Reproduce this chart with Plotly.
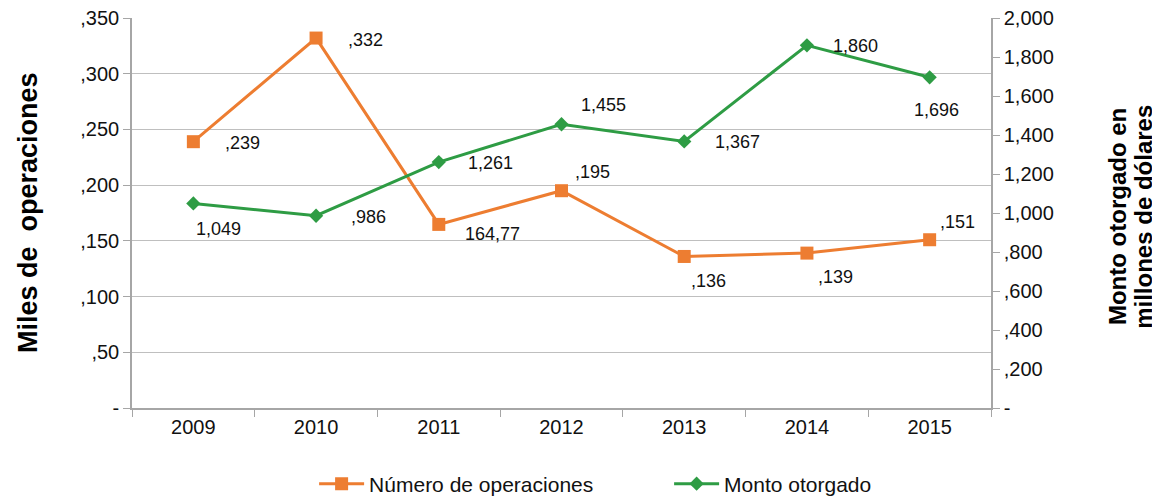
import plotly.graph_objects as go

years = ["2009", "2010", "2011", "2012", "2013", "2014", "2015"]
operaciones = [239, 332, 164.77, 195, 136, 139, 151]
operaciones_labels = [",239", ",332", "164,77", ",195", ",136", ",139", ",151"]
monto = [1049, 986, 1261, 1455, 1367, 1860, 1696]
monto_labels = ["1,049", ",986", "1,261", "1,455", "1,367", "1,860", "1,696"]

left_tickvals = [0, 50, 100, 150, 200, 250, 300, 350]
left_ticktext = ["-", ",50", ",100", ",150", ",200", ",250", ",300", ",350"]
right_tickvals = [0, 200, 400, 600, 800, 1000, 1200, 1400, 1600, 1800, 2000]
right_ticktext = ["-", ",200", ",400", ",600", ",800", "1,000", "1,200", "1,400", "1,600", "1,800", "2,000"]

# label offsets (pixels) for data labels
op_shift = [(49, -1), (49, -2), (54, -10), (31, 19), (24, -25), (29, -24), (28, 18)]
mo_shift = [(25, -26), (52, -1), (52, -1), (42, 19), (53, -1), (49, -1), (7, -33)]

ORANGE = "#ED7D31"
GREEN = "#2E9C44"
FONT = "Liberation Sans, Arial, sans-serif"

fig = go.Figure()
fig.add_trace(go.Scatter(
    x=years, y=operaciones, name="Número de operaciones", mode="lines+markers",
    line=dict(color=ORANGE, width=3), marker=dict(symbol="square", size=13, color=ORANGE),
    yaxis="y"))
fig.add_trace(go.Scatter(
    x=years, y=monto, name="Monto otorgado", mode="lines+markers",
    line=dict(color=GREEN, width=3), marker=dict(symbol="diamond", size=11, color=GREEN),
    yaxis="y2"))

annotations = []
for i, (v, t, (dx, dy)) in enumerate(zip(operaciones, operaciones_labels, op_shift)):
    annotations.append(dict(x=i, y=v, xref="x", yref="y", text=t, showarrow=False,
                            xshift=dx, yshift=dy, font=dict(size=18, color="#111", family=FONT)))
for i, (v, t, (dx, dy)) in enumerate(zip(monto, monto_labels, mo_shift)):
    annotations.append(dict(x=i, y=v, xref="x", yref="y2", text=t, showarrow=False,
                            xshift=dx, yshift=dy, font=dict(size=18, color="#111", family=FONT)))

annotations.append(dict(text="<b>Miles de\u00a0 operaciones</b>", x=-0.121, xref="paper", y=0.5,
                        yref="paper", showarrow=False, textangle=-90, xanchor="center",
                        yanchor="middle", font=dict(size=27, color="#000", family=FONT)))
annotations.append(dict(text="<b>Monto otorgado en</b>", x=1.148, xref="paper",
                        y=0.49, yref="paper", showarrow=False, textangle=-90, xanchor="center",
                        yanchor="middle", font=dict(size=24, color="#000", family=FONT)))
annotations.append(dict(text="<b>millones de dólares</b>", x=1.178, xref="paper",
                        y=0.49, yref="paper", showarrow=False, textangle=-90, xanchor="center",
                        yanchor="middle", font=dict(size=24, color="#000", family=FONT)))

fig.update_layout(
    template="none",
    width=1152, height=492,
    margin=dict(l=124, r=169, t=10, b=92, autoexpand=False),
    paper_bgcolor="white", plot_bgcolor="white",
    font=dict(family=FONT, size=20, color="#111"),
    showlegend=True,
    legend=dict(orientation="h", x=0.212, xanchor="left", y=-0.195, yanchor="middle",
                font=dict(size=21, color="#111"), itemwidth=45,
                entrywidth=295, entrywidthmode="pixels", bgcolor="rgba(0,0,0,0)"),
    xaxis=dict(type="category", range=[-0.5, 6.5], showgrid=False, showline=True,
               linecolor="#A6A6A6", linewidth=1.5, ticks="outside", tickson="boundaries",
               ticklen=7, tickcolor="#A6A6A6", tickfont=dict(size=20, color="#111"),
               zeroline=False, automargin=False),
    yaxis=dict(range=[0, 350], tickvals=left_tickvals, ticktext=left_ticktext,
               showgrid=True, gridcolor="#BFBFBF", gridwidth=1.2, showline=True,
               linecolor="#A6A6A6", linewidth=1.5, ticks="outside", ticklen=7,
               tickcolor="#A6A6A6", tickfont=dict(size=20, color="#111"), zeroline=False,
               automargin=False, ticklabeloverflow="allow"),
    yaxis2=dict(range=[0, 2000], tickvals=right_tickvals, ticktext=right_ticktext,
                overlaying="y", side="right", showgrid=False, showline=True,
                linecolor="#A6A6A6", linewidth=1.5, ticks="outside", ticklen=7,
                tickcolor="#A6A6A6", tickfont=dict(size=20, color="#111"), zeroline=False,
                automargin=False, ticklabeloverflow="allow"),
    annotations=annotations,
)

fig.write_html("out.html")
